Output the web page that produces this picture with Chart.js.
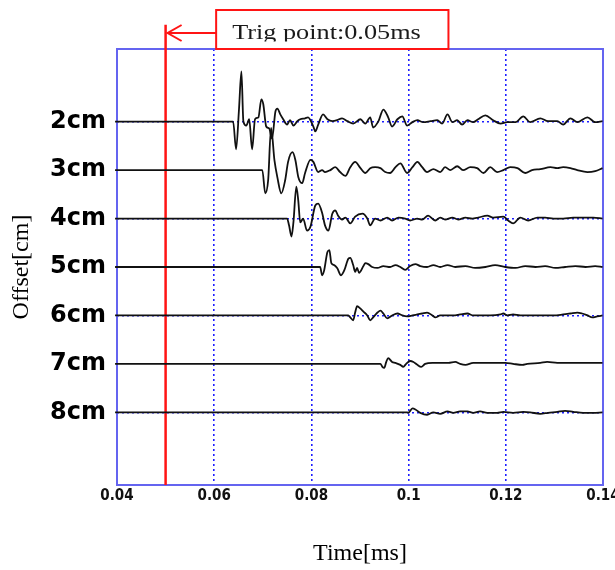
<!DOCTYPE html>
<html>
<head>
<meta charset="utf-8">
<script src="https://cdn.jsdelivr.net/npm/chart.js@4.4.1/dist/chart.umd.min.js"></script>
<style>
  html, body { margin: 0; padding: 0; background: #ffffff; }
  #wrap { width: 615px; height: 570px; position: relative; overflow: hidden; }
</style>
</head>
<body>
<div id="wrap"><canvas id="c" width="615" height="570"></canvas></div>
<script>
// ---------- data (time in ms, amplitude in cm of offset, positive = up) ----------
const offsetsCm   = [2, 3, 4, 5, 6, 7, 8];
const yTickLabels = ['2cm', '3cm', '4cm', '5cm', '6cm', '7cm', '8cm'];
const xTickValues = [0.04, 0.06, 0.08, 0.10, 0.12, 0.14];
const xTickLabels = ['0.04', '0.06', '0.08', '0.1', '0.12', '0.14'];
const trigTime    = 0.05;
const trigLabel   = 'Trig point:0.05ms';

const t2cm = [0.0396,0.0639,0.0645,0.0651,0.0656,0.0660,0.0666,0.0672,0.0678,0.0684,0.0691,0.0697,0.0701,0.0707,0.0713,0.0719,0.0726,0.0730,0.0736,0.0742,0.0750,0.0756,0.0763,0.0771,0.0777,0.0787,0.0793,0.0804,0.0808,0.0814,0.0824,0.0833,0.0843,0.0853,0.0863,0.0874,0.0886,0.0901,0.0911,0.0921,0.0927,0.0938,0.0948,0.0958,0.0966,0.0977,0.0987,0.0997,0.1008,0.1018,0.1030,0.1045,0.1059,0.1069,0.1080,0.1090,0.1100,0.1110,0.1121,0.1133,0.1143,0.1158,0.1174,0.1189,0.1203,0.1220,0.1236,0.1250,0.1271,0.1287,0.1306,0.1318,0.1333,0.1347,0.1368,0.1384,0.1399];
const a2cm = [0,0,-0.57,0.25,1.04,0.01,-0.08,0.05,-0.57,0.05,0.09,0.46,0.36,-0.10,-0.14,-0.35,0.21,0.27,0.15,0.05,-0.06,0.03,-0.08,0.01,0.05,0.07,0.09,-0.10,-0.20,-0.06,0.15,0.05,0.01,0.03,0.07,0.01,-0.04,0.05,-0.04,0.09,-0.12,0.01,0.25,0.09,-0.10,0.05,0.11,-0.08,-0.01,0.03,-0.01,0.01,0.03,-0.04,0.15,-0.01,0.03,-0.06,0.03,-0.01,0.05,0.13,0.03,-0.04,-0.01,-0.01,0.11,-0.01,0.07,0.01,0.01,-0.06,0.07,-0.01,0.09,-0.01,0.01];

const t3cm = [0.0396,0.0699,0.0705,0.0711,0.0717,0.0724,0.0730,0.0738,0.0746,0.0752,0.0761,0.0767,0.0773,0.0781,0.0787,0.0798,0.0804,0.0814,0.0822,0.0828,0.0839,0.0849,0.0859,0.0870,0.0880,0.0890,0.0901,0.0911,0.0921,0.0931,0.0942,0.0952,0.0962,0.0973,0.0983,0.0997,0.1008,0.1018,0.1028,0.1038,0.1051,0.1065,0.1075,0.1086,0.1100,0.1112,0.1127,0.1141,0.1154,0.1168,0.1182,0.1195,0.1209,0.1224,0.1240,0.1254,0.1271,0.1292,0.1306,0.1318,0.1333,0.1347,0.1368,0.1384,0.1399];
const a3cm = [0,0,-0.48,-0.21,0.87,0.20,-0.15,-0.48,-0.21,0.17,0.37,0.21,-0.14,-0.27,-0.06,0.21,0.17,-0.04,0,-0.04,0,0.06,-0.04,-0.12,0.06,0.17,0.04,-0.06,0.04,0.06,0.04,-0.04,-0.06,0.06,0.14,-0.06,0.06,0.17,0.06,-0.04,0.02,-0.04,0.06,0,0.08,0,0.06,0.04,-0.06,0.06,-0.04,0,0.06,0.04,-0.06,0,0.02,0.06,0.04,0.06,0.04,0,-0.04,-0.02,0.04];

const t4cm = [0.0396,0.0750,0.0754,0.0759,0.0763,0.0769,0.0773,0.0777,0.0783,0.0791,0.0798,0.0808,0.0814,0.0822,0.0828,0.0835,0.0843,0.0849,0.0855,0.0863,0.0870,0.0880,0.0890,0.0905,0.0915,0.0921,0.0931,0.0942,0.0956,0.0966,0.0979,0.0993,0.1003,0.1018,0.1028,0.1040,0.1055,0.1065,0.1075,0.1090,0.1102,0.1117,0.1131,0.1143,0.1162,0.1174,0.1195,0.1205,0.1215,0.1230,0.1246,0.1265,0.1281,0.1298,0.1318,0.1339,0.1359,0.1380,0.1399];
const a4cm = [0,0,-0.14,-0.37,-0.08,0.66,0.37,-0.08,0,-0.25,-0.17,0.27,0.31,0.12,-0.14,-0.25,0.10,0.17,0.06,-0.02,0.02,-0.10,0.04,0.10,0,-0.14,0,-0.04,0.02,-0.04,0.02,0,-0.04,0,-0.02,0.06,-0.04,0.02,-0.02,0.02,-0.02,0.02,0,0.02,0.06,0.02,0.04,-0.04,-0.10,0.02,-0.04,0.02,0.02,0,0,0.02,0.02,0.02,0];

const t5cm = [0.0396,0.0818,0.0822,0.0826,0.0833,0.0837,0.0841,0.0847,0.0853,0.0861,0.0868,0.0876,0.0880,0.0886,0.0890,0.0894,0.0898,0.0907,0.0911,0.0917,0.0925,0.0936,0.0948,0.0962,0.0973,0.0983,0.0993,0.1003,0.1014,0.1024,0.1038,0.1051,0.1065,0.1080,0.1096,0.1117,0.1137,0.1158,0.1178,0.1199,0.1220,0.1240,0.1261,0.1281,0.1302,0.1322,0.1343,0.1364,0.1384,0.1399];
const a5cm = [0,0,-0.17,-0.08,0.31,0.35,0.08,0.04,-0.02,-0.17,-0.06,0.17,0.19,0.04,-0.10,-0.02,-0.12,0.02,0.08,0.06,0,-0.02,0.02,0,0.04,0,-0.06,0.02,0.06,0.02,0,0.04,0,0.04,0,0.02,-0.02,0,0.04,0,-0.02,0.02,0,0.02,-0.02,0,0.02,0,0.02,0];

const t6cm = [0.0396,0.0876,0.0880,0.0886,0.0890,0.0894,0.0901,0.0907,0.0915,0.0921,0.0927,0.0936,0.0942,0.0948,0.0956,0.0966,0.0977,0.0987,0.0997,0.1008,0.1018,0.1028,0.1038,0.1049,0.1055,0.1065,0.1080,0.1092,0.1106,0.1121,0.1133,0.1147,0.1168,0.1189,0.1195,0.1203,0.1215,0.1230,0.1257,0.1281,0.1298,0.1318,0.1333,0.1347,0.1357,0.1368,0.1378,0.1388,0.1399];
const a6cm = [0,0,-0.04,-0.10,0.06,0.19,0.14,0.08,0,-0.10,-0.04,0.06,0.10,0.04,-0.06,0,0.04,0,-0.02,0,0.02,0.04,0.06,0,-0.04,0,0,0,0.02,0.04,0,0,0,0.02,0.04,0,0.02,0,0,0,0,0.02,0.04,0.06,0.04,0,-0.04,-0.02,0];

const t7cm = [0.0396,0.0942,0.0946,0.0950,0.0954,0.0958,0.0966,0.0973,0.0983,0.0989,0.0995,0.1003,0.1010,0.1018,0.1026,0.1034,0.1049,0.1065,0.1082,0.1096,0.1106,0.1117,0.1133,0.1162,0.1189,0.1199,0.1215,0.1234,0.1244,0.1271,0.1285,0.1306,0.1327,0.1353,0.1380,0.1399];
const a7cm = [0,0,-0.06,-0.08,0.04,0.12,0.04,0.02,-0.02,-0.06,0,0.06,0.04,-0.02,-0.06,0,0.02,0.02,0.02,0.04,0,-0.02,0.02,0.02,0.02,0.02,0,-0.02,0,0.02,0.04,0.02,0.02,0.02,0.02,0.02];

const t8cm = [0.0396,0.0997,0.0999,0.1008,0.1014,0.1024,0.1038,0.1051,0.1065,0.1080,0.1092,0.1106,0.1121,0.1133,0.1147,0.1162,0.1182,0.1195,0.1215,0.1236,0.1250,0.1271,0.1287,0.1306,0.1322,0.1339,0.1359,0.1380,0.1399];
const a8cm = [0,0,-0.01,0.08,0.06,-0.01,-0.05,0,-0.03,0.02,-0.01,0.02,0.02,-0.01,0.02,-0.01,-0.01,0.01,-0.01,0.01,0,-0.03,-0.01,0.01,0.03,0.01,-0.01,-0.01,0];

const traceTimes = [t2cm, t3cm, t4cm, t5cm, t6cm, t7cm, t8cm];
const traceAmps  = [a2cm, a3cm, a4cm, a5cm, a6cm, a7cm, a8cm];

// ---------- styling ----------
const GRID_BLUE  = '#1e1eff';
const FRAME_BLUE = '#6464f0';
const RED        = '#ff1414';

const datasets = offsetsCm.map((off, k) => ({
  label: yTickLabels[k],
  data: traceTimes[k].map((t, i) => ({ x: t, y: off - traceAmps[k][i] })),
  borderColor: '#111111',
  borderWidth: 1.8,
  pointRadius: 0,
  cubicInterpolationMode: 'monotone',
  fill: false,
  clip: 4
}));

datasets.push({
  label: 'trigger',
  data: [{ x: trigTime, y: 0 }, { x: trigTime, y: 9.5 }],
  borderColor: RED,
  borderWidth: 2.5,
  pointRadius: 0,
  tension: 0,
  clip: false
});

const framePlugin = {
  id: 'frame',
  beforeDatasetsDraw(chart) {
    const { ctx, chartArea: a } = chart;
    ctx.save();
    ctx.strokeStyle = FRAME_BLUE;
    ctx.lineWidth = 2;
    ctx.strokeRect(a.left, a.top, a.right - a.left, a.bottom - a.top);
    ctx.restore();
  }
};

const trigBoxPlugin = {
  id: 'trigBox',
  afterDraw(chart) {
    const { ctx } = chart;
    const xs = chart.scales.x;
    const xTrig = xs.getPixelForValue(trigTime);
    const boxL = xs.getPixelForValue(0.0604);
    const boxR = xs.getPixelForValue(0.1082);
    const boxT = 10, boxB = chart.chartArea.top;
    ctx.save();
    ctx.fillStyle = '#ffffff';
    ctx.fillRect(boxL, boxT, boxR - boxL, boxB - boxT);
    ctx.strokeStyle = RED;
    ctx.lineWidth = 2;
    ctx.strokeRect(boxL, boxT, boxR - boxL, boxB - boxT);
    // arrow
    const ay = 33;
    ctx.beginPath();
    ctx.moveTo(boxL, ay);
    ctx.lineTo(xTrig + 2, ay);
    ctx.stroke();
    ctx.beginPath();
    ctx.moveTo(xTrig + 16, ay - 8);
    ctx.lineTo(xTrig + 2, ay);
    ctx.lineTo(xTrig + 16, ay + 8);
    ctx.stroke();
    // label
    ctx.beginPath();
    ctx.rect(boxL + 2, boxT + 2, boxR - boxL - 4, 41.5 - boxT - 2);
    ctx.clip();
    ctx.translate(boxL + 16, 39);
    ctx.scale(1.25, 1);
    ctx.font = '21px "Liberation Serif", "Times New Roman", serif';
    ctx.fillStyle = '#1a1a1a';
    ctx.textBaseline = 'alphabetic';
    ctx.textAlign = 'left';
    ctx.fillText(trigLabel, 0, 0);
    ctx.restore();
  }
};

new Chart(document.getElementById('c'), {
  type: 'line',
  data: { datasets },
  plugins: [framePlugin, trigBoxPlugin],
  options: {
    responsive: false,
    devicePixelRatio: 1,
    animation: false,
    layout: { padding: { top: 49, right: 12, bottom: 0, left: 0 } },
    plugins: { legend: { display: false }, tooltip: { enabled: false }, title: { display: false } },
    scales: {
      x: {
        type: 'linear',
        min: 0.04,
        max: 0.14,
        afterBuildTicks: (s) => { s.ticks = xTickValues.map(v => ({ value: v })); },
        afterFit: (s) => { s.height = 85; s.paddingLeft = 0; s.paddingRight = 0; },
        ticks: {
          autoSkip: false,
          maxRotation: 0,
          padding: 2,
          color: '#111111',
          font: { family: "'Liberation Sans Narrow', 'DejaVu Sans Condensed', 'Liberation Sans', sans-serif", size: 15, weight: 'bold' },
          callback: (v, i) => xTickLabels[i]
        },
        grid: {
          drawTicks: false,
          lineWidth: 1.6,
          color: (c) => (c.tick && c.tick.value > 0.041 && c.tick.value < 0.139) ? GRID_BLUE : 'rgba(0,0,0,0)'
        },
        border: { display: false, dash: [2, 3] },
        title: {
          display: true,
          text: 'Time[ms]',
          color: '#000000',
          font: { family: "'Liberation Serif', 'Times New Roman', serif", size: 24 },
          padding: { top: 0, bottom: 2 }
        }
      },
      y: {
        type: 'linear',
        reverse: true,
        min: 0.5,
        max: 9.5,
        afterBuildTicks: (s) => { s.ticks = offsetsCm.map(v => ({ value: v })); },
        afterFit: (s) => { s.width = 117; },
        ticks: {
          padding: 11,
          color: '#000000',
          font: { family: "'DejaVu Sans', sans-serif", size: 24, weight: 'bold' },
          callback: (v, i) => yTickLabels[i]
        },
        grid: {
          drawTicks: false,
          lineWidth: 1.6,
          color: (c) => (c.tick && c.tick.value % 2 === 0) ? GRID_BLUE : 'rgba(0,0,0,0)'
        },
        border: { display: false, dash: [2, 3] },
        title: {
          display: true,
          text: 'Offset[cm]',
          color: '#000000',
          font: { family: "'Liberation Serif', 'Times New Roman', serif", size: 24 },
          padding: { top: 7, bottom: 0 }
        }
      }
    }
  }
});
</script>
</body>
</html>
